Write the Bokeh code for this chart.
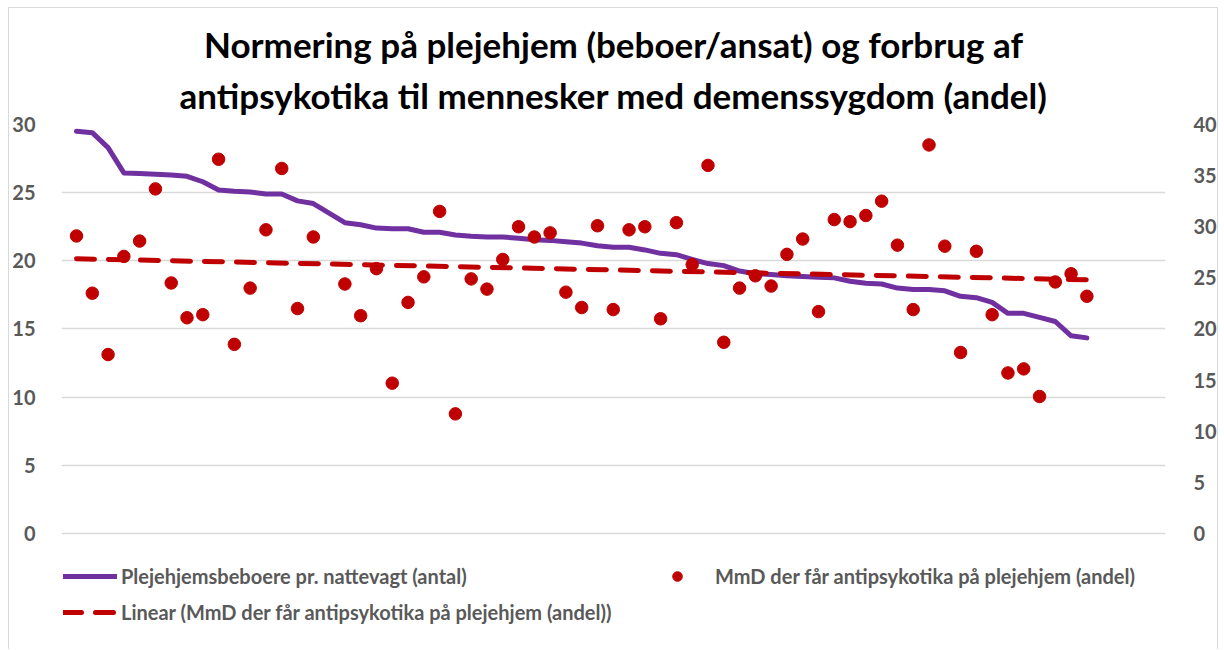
import numpy as np
from bokeh.plotting import figure
from bokeh.models import Range1d, LinearAxis, FixedTicker, Legend, LegendItem, Title
from bokeh.embed import file_html
from bokeh.resources import INLINE

title_lines = ["Normering på plejehjem (beboer/ansat) og forbrug af",
               "antipsykotika til mennesker med demenssygdom (andel)"]
line_label = "Plejehjemsbeboere pr. nattevagt (antal)"
dots_label = "MmD der får antipsykotika på plejehjem (andel)"
trend_label = "Linear (MmD der får antipsykotika på plejehjem (andel))"

left_ticks = [0, 5, 10, 15, 20, 25, 30]
right_ticks = [0, 5, 10, 15, 20, 25, 30, 35, 40]

# Plejehjemsbeboere pr. nattevagt (left axis)
nattevagt = [29.5, 29.4, 28.3, 26.45, 26.4, 26.35, 26.3, 26.2, 25.8, 25.2,
             25.1, 25.05, 24.9, 24.9, 24.4, 24.2, 23.5, 22.8, 22.65, 22.4,
             22.35, 22.35, 22.1, 22.1, 21.9, 21.8, 21.75, 21.75, 21.65, 21.55,
             21.5, 21.4, 21.3, 21.1, 21.0, 21.0, 20.8, 20.55, 20.45, 20.1,
             19.8, 19.65, 19.25, 19.05, 19.0, 18.9, 18.85, 18.8, 18.75, 18.5,
             18.35, 18.3, 18.0, 17.9, 17.9, 17.8, 17.4, 17.3, 16.95, 16.15,
             16.15, 15.85, 15.55, 14.5, 14.35]

# MmD der får antipsykotika (right axis), None = missing value
antipsykotika = [29.1, 23.5, 17.5, 27.1, 28.6, 33.7, 24.5, 21.1, 21.4, 36.6,
                 18.5, 24.0, 29.7, 35.7, 22.0, 29.0, None, 24.4, 21.3, 25.9,
                 14.7, 22.6, 25.1, 31.5, 11.7, 24.9, 23.9, 26.8, 30.0, 29.0,
                 29.4, 23.6, 22.1, 30.1, 21.9, 29.7, 30.0, 21.0, 30.4, 26.3,
                 36.0, 18.7, 24.0, 25.2, 24.2, 27.3, 28.8, 21.7, 30.7, 30.5,
                 31.1, 32.5, 28.2, 21.9, 38.0, 28.1, 17.7, 27.6, 21.4, 15.7,
                 16.1, 13.4, 24.6, 25.4, 23.2]

# Linear trendline of the red series, read at its two ends (first, last slot)
trend_values = [26.87, 24.81]

slots = list(range(len(nattevagt)))
dots = np.array([np.nan if v is None else v for v in antipsykotika], dtype=float)
trend_slots = [slots[0], slots[-1]]

PURPLE = "#7030A0"
RED = "#C00000"
GRID = "#D9D9D9"
LABEL = "#595959"
FONT = "Lato"

# frame reaches the canvas bottom so that the legend below the axes is drawn
p = figure(width=1210, height=642, output_backend="svg", toolbar_location=None,
           x_range=Range1d(-0.95, 68.98), y_range=Range1d(-8.582, 30),
           min_border_left=50, min_border_right=51, min_border_top=116,
           min_border_bottom=0)
p.extra_y_ranges = {"right": Range1d(-11.443, 40)}
p.outline_line_color = None
p.background_fill_color = "white"
p.border_fill_color = "white"
p.styles = {"margin-left": "8px", "margin-top": "7px",
            "border-top": "1px solid #D9D9D9", "border-left": "1px solid #D9D9D9",
            "border-right": "1px solid #D9D9D9"}

def style_title(t, text, standoff):
    t.text = text
    t.align = "center"
    t.text_font = FONT
    t.text_font_style = "bold"
    t.text_font_size = "35px"
    t.text_color = "black"
    t.text_line_height = 1.0
    t.standoff = standoff
    t.offset = 0

style_title(p.title, title_lines[0], -3)
t2 = Title()
style_title(t2, title_lines[1], 17)
p.add_layout(t2, "above")

p.xaxis.visible = False
p.xgrid.visible = False

def style_axis(ax, ticks, standoff):
    ax.ticker = FixedTicker(ticks=ticks)
    ax.axis_line_color = None
    ax.major_tick_line_color = None
    ax.minor_tick_line_color = None
    ax.major_label_text_font = FONT
    ax.major_label_text_font_style = "bold"
    ax.major_label_text_font_size = "20px"
    ax.major_label_text_color = LABEL
    ax.major_label_standoff = standoff

style_axis(p.yaxis[0], left_ticks, 20)
right_axis = LinearAxis(y_range_name="right")
style_axis(right_axis, right_ticks, 22)
p.add_layout(right_axis, "right")

p.ygrid.ticker = FixedTicker(ticks=left_ticks)
p.ygrid.grid_line_color = GRID
p.ygrid.grid_line_width = 1.3

r_line = p.line(slots, nattevagt, line_color=PURPLE, line_width=5,
                line_cap="round", line_join="round")
r_dots = p.scatter(slots, dots, size=12.5, fill_color=RED, line_color=RED,
                   y_range_name="right")
r_trend = p.line(trend_slots, trend_values, line_color=RED, line_width=5,
                 line_dash="18 14", line_cap="round", y_range_name="right")

legend_style = dict(padding=0, margin=0, spacing=12, glyph_height=24,
                    label_height=24, label_standoff=4,
                    label_text_font=FONT, label_text_font_style="bold",
                    label_text_font_size="20px", label_text_color=LABEL,
                    border_line_color=None, background_fill_alpha=0)
legend_a = Legend(items=[LegendItem(label=line_label, renderers=[r_line]),
                         LegendItem(label=trend_label, renderers=[r_trend])],
                  location=(2, 26), orientation="vertical", glyph_width=54,
                  **legend_style)
legend_b = Legend(items=[LegendItem(label=dots_label, renderers=[r_dots])],
                  location=(581, 62), orientation="vertical", glyph_width=70,
                  **legend_style)
legend_b.label_standoff = 3
p.add_layout(legend_a)
p.add_layout(legend_b)

open("out.html", "w").write(file_html(p, INLINE))
